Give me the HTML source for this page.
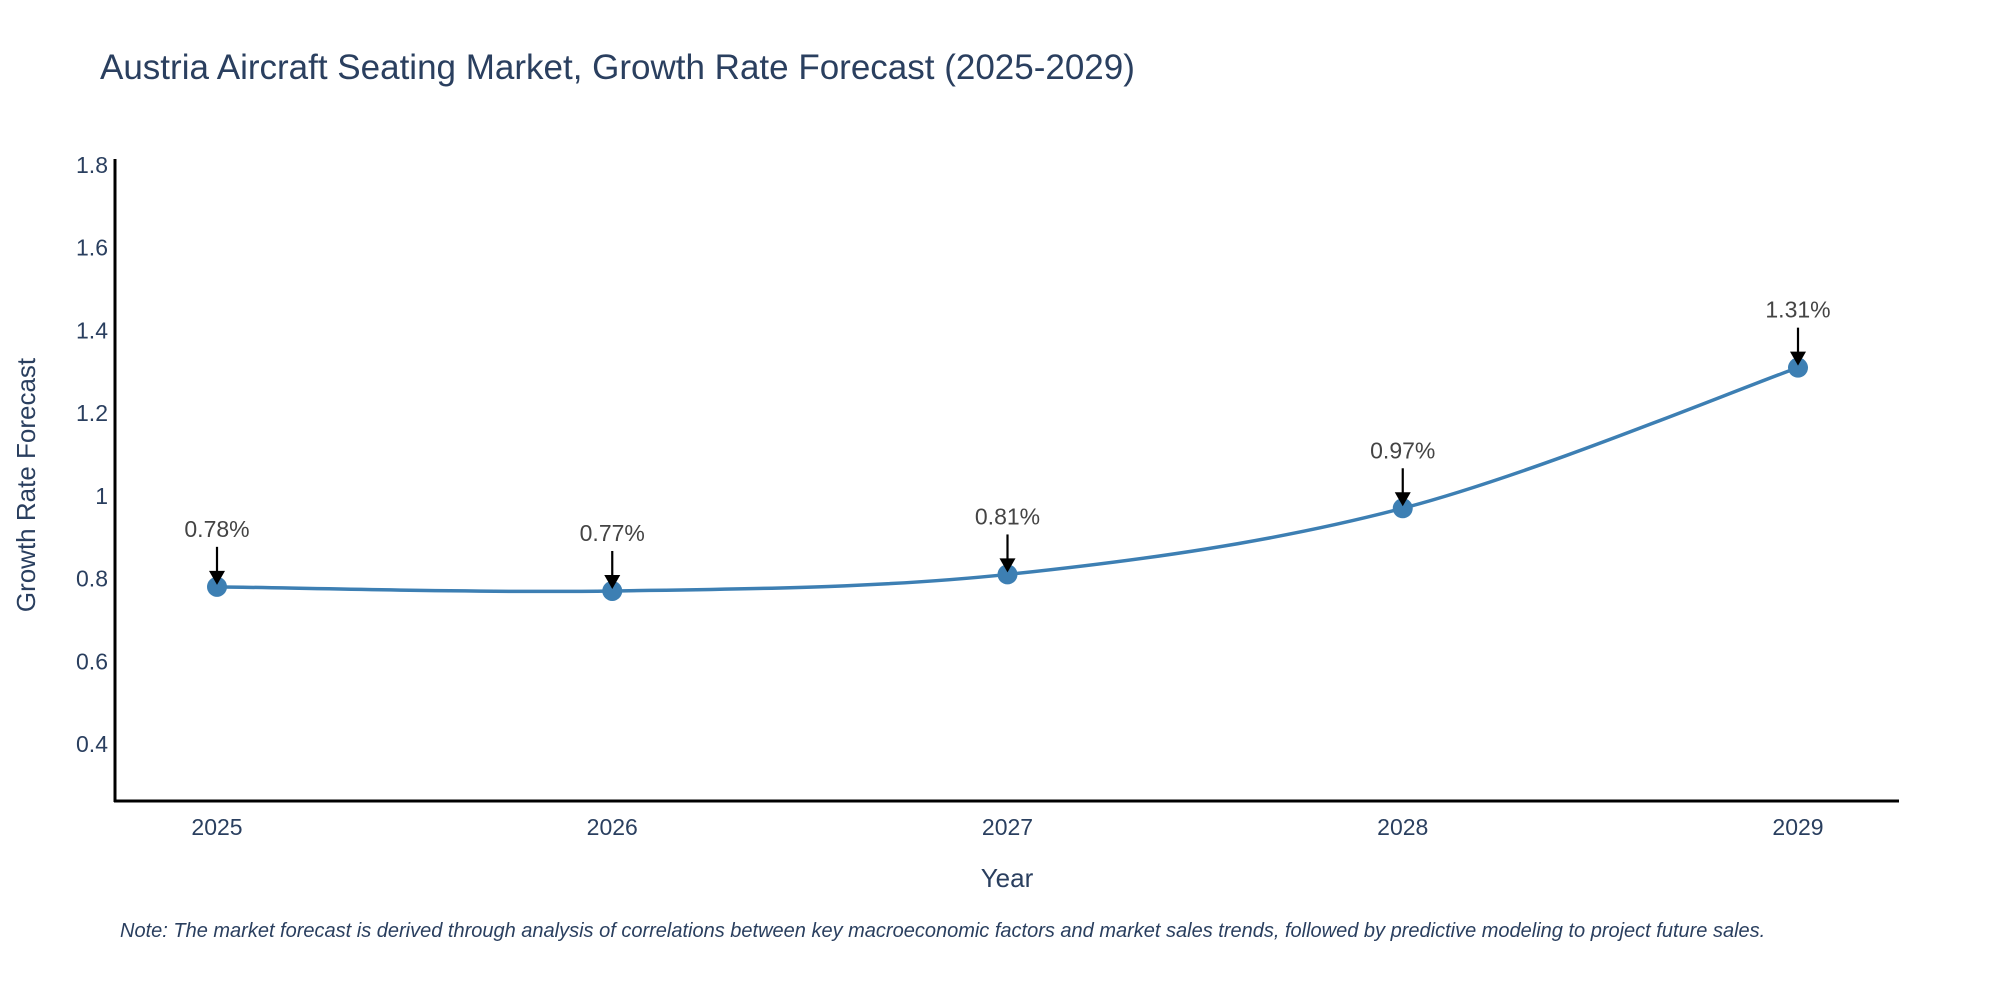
<!DOCTYPE html>
<html><head><meta charset="utf-8"><style>
body{margin:0;background:#fff;}
svg{display:block;font-family:"Liberation Sans","DejaVu Sans",sans-serif;}
</style></head><body>
<svg id="chart" width="2000" height="1000" viewBox="0 0 2000 1000">
<text x="100" y="79" font-size="35" fill="#2a3f5f">Austria Aircraft Seating Market, Growth Rate Forecast (2025-2029)</text>
<g id="yticks"></g>
<g id="xticks"></g>
<line x1="115" y1="159" x2="115" y2="802" stroke="#000" stroke-width="3"/>
<line x1="114" y1="801" x2="1899" y2="801" stroke="#000" stroke-width="3"/>
<text transform="translate(35,485) rotate(-90)" text-anchor="middle" font-size="26" fill="#2a3f5f">Growth Rate Forecast</text>
<text x="1007" y="887" text-anchor="middle" font-size="26" fill="#2a3f5f">Year</text>
<text x="120" y="937" font-size="20" font-style="italic" fill="#2a3f5f">Note: The market forecast is derived through analysis of correlations between key macroeconomic factors and market sales trends, followed by predictive modeling to project future sales.</text>
<g id="series"></g>
</svg>
<script>
const years = ["2025","2026","2027","2028","2029"];
const values = [0.78, 0.77, 0.81, 0.97, 1.31];
const valueLabels = ["0.78%","0.77%","0.81%","0.97%","1.31%"];
const yTicks = [0.4,0.6,0.8,1,1.2,1.4,1.6,1.8];
const yTickLabels = ["0.4","0.6","0.8","1","1.2","1.4","1.6","1.8"];

const NS="http://www.w3.org/2000/svg";
function xPos(i){return 217+i*(1798-217)/(years.length-1);}
function yPos(v){return 165+(1.8-v)*(744-165)/1.4;}
function mk(tag,attrs,parent){const e=document.createElementNS(NS,tag);for(const k in attrs)e.setAttribute(k,attrs[k]);parent.appendChild(e);return e;}

const yt=document.getElementById('yticks');
yTicks.forEach((v,i)=>{
  const t=mk('text',{x:108,y:yPos(v)+8,'text-anchor':'end','font-size':23,fill:'#2a3f5f'},yt);
  
  
  t.textContent=yTickLabels[i];
});
const xt=document.getElementById('xticks');
years.forEach((y,i)=>{
  const t=mk('text',{x:xPos(i),y:835,'text-anchor':'middle','font-size':23,fill:'#2a3f5f'},xt);
  
  
  t.textContent=y;
});

const s=document.getElementById('series');
const pts=values.map((v,i)=>[xPos(i),yPos(v)]);
let d=`M${pts[0][0]},${pts[0][1]}`;
for(let i=0;i<pts.length-1;i++){
  const p0=pts[Math.max(0,i-1)],p1=pts[i],p2=pts[i+1],p3=pts[Math.min(pts.length-1,i+2)];
  const c1=[p1[0]+(p2[0]-p0[0])/6,p1[1]+(p2[1]-p0[1])/6];
  const c2=[p2[0]-(p3[0]-p1[0])/6,p2[1]-(p3[1]-p1[1])/6];
  d+=` C${c1[0]},${c1[1]} ${c2[0]},${c2[1]} ${p2[0]},${p2[1]}`;
}
const line=mk('path',{d:d,fill:'none',stroke:'#3d7fb3','stroke-width':3.5},s);



pts.forEach((p,i)=>{
  const c=mk('circle',{cx:p[0],cy:p[1],r:10,fill:'#3d7fb3'},s);
  
  
  const a=mk('line',{x1:p[0],y1:p[1]-40,x2:p[0],y2:p[1]-12,stroke:'#000','stroke-width':2.2},s);
  
  
  const h=mk('polygon',{points:`${p[0]-8},${p[1]-16} ${p[0]+8},${p[1]-16} ${p[0]},${p[1]-2}`,fill:'#000'},s);
  
  
  const t=mk('text',{x:p[0],y:p[1]-50,'text-anchor':'middle','font-size':23,fill:'#444'},s);
  
  
  t.textContent=valueLabels[i];
});
</script>
</body></html>
